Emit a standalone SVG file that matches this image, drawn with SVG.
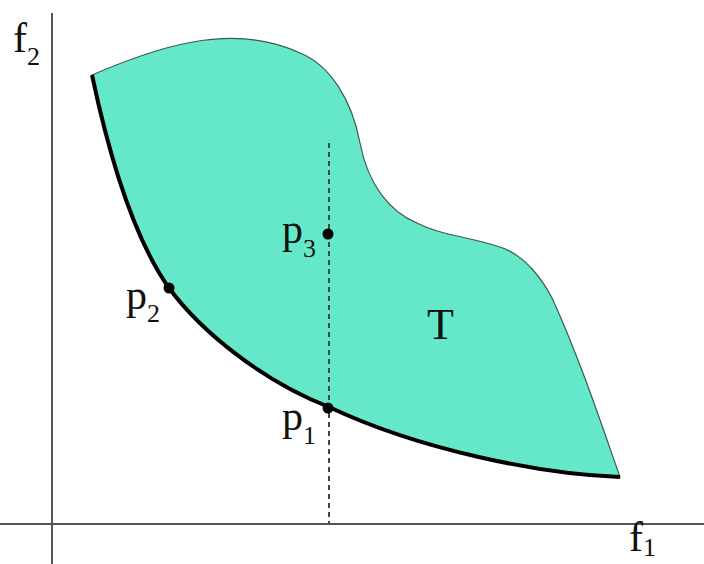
<svg xmlns="http://www.w3.org/2000/svg" width="704" height="564" viewBox="0 0 704 564">
<style>
.lbl{font-family:"Liberation Serif",serif;fill:#111;}
.main{font-size:42px;}
.sub{font-size:26px;}
.axis{stroke:#555;stroke-width:2;fill:none;}
</style>
<rect width="704" height="564" fill="#fff"/>
<g id="axes">
<line class="axis" x1="52" y1="13" x2="52" y2="564"/>
<line class="axis" x1="0" y1="524" x2="704" y2="524"/>
</g>
<g id="region-T">
<path d="M92,75 C150,50 230,20 300,53 C330,65 352,100 360,143 C368,185 390,212 417,223 C440,235 470,237 500,247 C525,255 543,280 553,300 C580,360 600,420 620,477 C540,474 420,450 329,407 C260,380 200,330 169,288 C135,240 110,160 92,75 Z" fill="#64e8c9" stroke="#3a5a52" stroke-width="1.2"/>
<path d="M620,477 C540,474 420,450 329,407 C260,380 200,330 169,288 C135,240 110,160 92,75" fill="none" stroke="#000" stroke-width="4"/>
</g>
<g id="connectors">
<line x1="329" y1="143" x2="329" y2="524" stroke="#3c4a46" stroke-width="2" stroke-dasharray="5,4"/>
</g>
<g id="p1"><circle cx="328" cy="408" r="5.5" fill="#000"/><text class="lbl main" x="282" y="430">p<tspan class="sub" dy="14">1</tspan></text></g>
<g id="p2"><circle cx="169" cy="288" r="5.5" fill="#000"/><text class="lbl main" x="126" y="309">p<tspan class="sub" dy="13">2</tspan></text></g>
<g id="p3"><circle cx="328" cy="234" r="5.5" fill="#000"/><text class="lbl main" x="282" y="243">p<tspan class="sub" dy="14">3</tspan></text></g>
<g id="T"><text class="lbl" font-size="44" x="427" y="339">T</text></g>
<g id="f2"><text class="lbl main" x="13" y="52">f<tspan class="sub" dy="13">2</tspan></text></g>
<g id="f1"><text class="lbl main" x="629" y="551">f<tspan class="sub" dy="5">1</tspan></text></g>
</svg>
